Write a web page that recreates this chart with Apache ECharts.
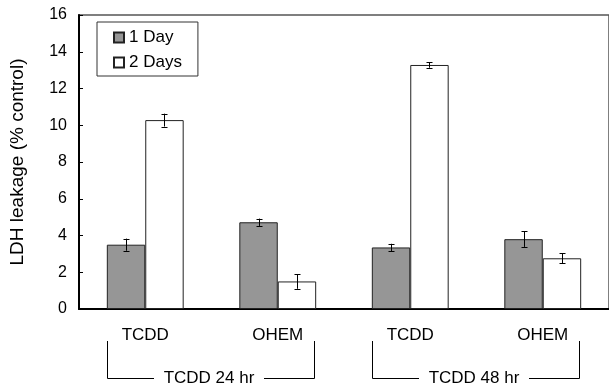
<!DOCTYPE html>
<html><head><meta charset="utf-8">
<script src="https://cdn.jsdelivr.net/npm/echarts@6/dist/echarts.min.js"></script>
<style>html,body{margin:0;padding:0;background:#fff}#c{width:609px;height:387px}</style>
</head><body><div id="c"></div>
<script>
var categories = ['TCDD', 'OHEM', 'TCDD', 'OHEM'];
var groups = ['TCDD 24 hr', 'TCDD 48 hr'];
var seriesNames = ['1 Day', '2 Days'];
var day1 = [3.5, 4.72, 3.35, 3.8];
var day1Err = [0.33, 0.2, 0.2, 0.42];
var day2 = [10.28, 1.5, 13.28, 2.76];
var day2Err = [0.35, 0.4, 0.15, 0.27];
var yTicks = [0, 2, 4, 6, 8, 10, 12, 14, 16];

var FONT = 'Liberation Sans, Arial, sans-serif';
var GAP = 0.42;
var chart = echarts.init(document.getElementById('c'));

function errData(vals, errs) {
  return vals.map(function (v, i) { return [i, v - errs[i], v + errs[i]]; });
}
function errSeries(vals, errs, side) {
  return {
    type: 'custom', silent: true, z: 5,
    data: errData(vals, errs),
    encode: { x: 0, y: [1, 2] },
    renderItem: function (params, api) {
      var bw = api.size([1, 0])[0];
      var off = side * bw * (1 - GAP) / 4;
      var lo = api.coord([api.value(0), api.value(1)]);
      var hi = api.coord([api.value(0), api.value(2)]);
      var x = Math.round(lo[0] + off) + 0.5;
      var c = 3;
      var st = { stroke: '#000', lineWidth: 1 };
      return { type: 'group', children: [
        { type: 'line', shape: { x1: x, y1: lo[1], x2: x, y2: hi[1] }, style: st },
        { type: 'line', shape: { x1: x - c, y1: Math.round(lo[1]) + 0.5, x2: x + c, y2: Math.round(lo[1]) + 0.5 }, style: st },
        { type: 'line', shape: { x1: x - c, y1: Math.round(hi[1]) + 0.5, x2: x + c, y2: Math.round(hi[1]) + 0.5 }, style: st }
      ]};
    }
  };
}

chart.setOption({
  animation: false,
  textStyle: { fontFamily: FONT },
  grid: { left: 75, top: 15, width: 538, height: 294, show: true, borderColor: '#555', borderWidth: 1.5, backgroundColor: 'transparent' },
  legend: {
    orient: 'vertical', left: 97, top: 22,
    data: seriesNames,
    itemWidth: 10, itemHeight: 10, itemGap: 8,
    padding: [7, 16, 5, 16],
    borderColor: '#333', borderWidth: 1,
    icon: 'rect',
    textStyle: { fontSize: 17, color: '#000', fontFamily: FONT }
  },
  xAxis: {
    type: 'category', data: categories,
    axisLine: { lineStyle: { color: '#000', width: 2 } },
    axisTick: { inside: true, length: 4, lineStyle: { color: '#000' } },
    axisLabel: { margin: 18, fontSize: 17, color: '#000', fontFamily: FONT },
    splitLine: { show: false }
  },
  yAxis: {
    type: 'value', min: 0, max: 16, interval: 2,
    name: 'LDH leakage (% control)', nameLocation: 'middle', nameGap: 52,
    nameTextStyle: { fontSize: 19, color: '#000', fontFamily: FONT },
    axisLine: { show: true, lineStyle: { color: '#000', width: 2 } },
    axisTick: { show: true, inside: true, length: 4, lineStyle: { color: '#000' } },
    axisLabel: { fontSize: 16, color: '#000', margin: 12, fontFamily: FONT },
    splitLine: { show: false }
  },
  series: [
    { name: seriesNames[0], type: 'bar', data: day1, barGap: '0%', barCategoryGap: (GAP * 100) + '%',
      itemStyle: { color: '#969696', borderColor: '#222', borderWidth: 1 } },
    { name: seriesNames[1], type: 'bar', data: day2, barGap: '0%', barCategoryGap: (GAP * 100) + '%',
      itemStyle: { color: '#ffffff', borderColor: '#222', borderWidth: 1 } },
    errSeries(day1, day1Err, -1),
    errSeries(day2, day2Err, 1)
  ]
});

// group brackets below category labels, positioned via axis scale
var p0 = chart.convertToPixel({ xAxisIndex: 0 }, 0);
var p1 = chart.convertToPixel({ xAxisIndex: 0 }, 1);
var bw = p1 - p0;
var half = bw * (1 - GAP) / 2;
var graphics = [];
var yTop = 341, yBot = 378;
groups.forEach(function (g, gi) {
  var a = chart.convertToPixel({ xAxisIndex: 0 }, gi * 2);
  var b = chart.convertToPixel({ xAxisIndex: 0 }, gi * 2 + 1);
  var xl = Math.round(a - half) + 0.5, xr = Math.round(b + half - 2) + 0.5;
  var xc = (xl + xr) / 2 - 2;
  var hg = 55;
  graphics.push({ type: 'polyline', shape: { points: [[xl, yTop], [xl, yBot + 0.5], [xc - hg, yBot + 0.5]] }, style: { stroke: '#000', lineWidth: 1, fill: null } });
  graphics.push({ type: 'polyline', shape: { points: [[xc + hg, yBot + 0.5], [xr, yBot + 0.5], [xr, yTop]] }, style: { stroke: '#000', lineWidth: 1, fill: null } });
  graphics.push({ type: 'text', x: xc, y: yBot, style: { text: g, fontSize: 17, fontFamily: FONT, fill: '#000', align: 'center', verticalAlign: 'middle' } });
});
chart.setOption({ graphic: graphics });
</script></body></html>
